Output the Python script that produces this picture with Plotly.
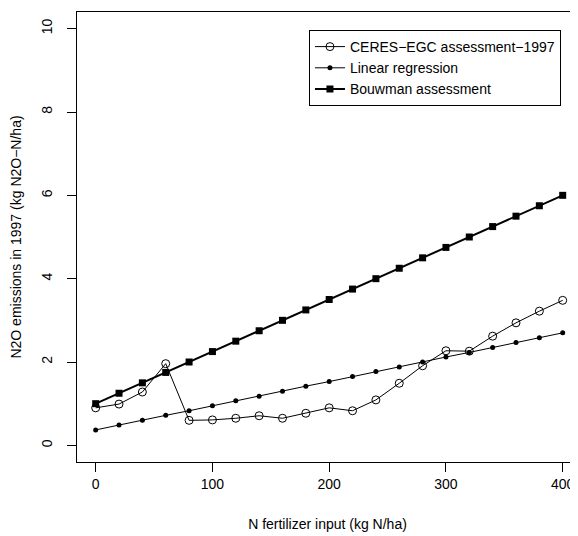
import plotly.graph_objects as go

n_input = [0, 20, 40, 60, 80, 100, 120, 140, 160, 180, 200, 220, 240, 260, 280, 300, 320, 340, 360, 380, 400]
ceres = [0.90, 0.99, 1.28, 1.96, 0.60, 0.61, 0.65, 0.71, 0.65, 0.77, 0.90, 0.83, 1.09, 1.49, 1.91, 2.27, 2.26, 2.62, 2.94, 3.22, 3.48]
linreg = [0.37, 0.49, 0.60, 0.72, 0.83, 0.95, 1.07, 1.18, 1.30, 1.42, 1.53, 1.65, 1.77, 1.88, 2.00, 2.12, 2.23, 2.35, 2.47, 2.58, 2.70]
bouwman = [1.00, 1.25, 1.50, 1.75, 2.00, 2.25, 2.50, 2.75, 3.00, 3.25, 3.50, 3.75, 4.00, 4.25, 4.50, 4.75, 5.00, 5.25, 5.50, 5.75, 6.00]
x_ticks = [0, 100, 200, 300, 400]
y_ticks = [0, 2, 4, 6, 8, 10]

FONT = "Liberation Sans, Arial, Helvetica, sans-serif"
FS = 14

fig = go.Figure()
fig.add_trace(go.Scatter(
    x=n_input, y=ceres, mode="lines+markers", name="CERES\u2212EGC assessment\u22121997",
    line=dict(color="black", width=1),
    marker=dict(symbol="circle-open", size=8, color="black", line=dict(width=1)),
))
fig.add_trace(go.Scatter(
    x=n_input, y=linreg, mode="lines+markers", name="Linear regression",
    line=dict(color="black", width=1),
    marker=dict(symbol="circle", size=5, color="black"),
))
fig.add_trace(go.Scatter(
    x=n_input, y=bouwman, mode="lines+markers", name="Bouwman assessment",
    line=dict(color="black", width=2),
    marker=dict(symbol="square", size=7, color="black"),
))

# page has an 8px body margin, so the figure is shrunk and shifted accordingly
fig.update_layout(
    width=570, height=528,
    margin=dict(l=69, r=0, t=4, b=74),
    paper_bgcolor="white", plot_bgcolor="white",
    font=dict(family=FONT, size=FS, color="black"),
    showlegend=True,
    legend=dict(
        x=0.463, y=0.96, xanchor="left", yanchor="top",
        bordercolor="black", borderwidth=1, bgcolor="white",
        font=dict(family=FONT, size=FS, color="black"),
        tracegroupgap=0, itemwidth=30,
    ),
    xaxis=dict(
        range=[-16, 413.1], tickvals=x_ticks, ticktext=[str(v) for v in x_ticks],
        showgrid=False, zeroline=False, automargin=False,
        showline=True, linecolor="black", linewidth=1, mirror=True,
        ticks="outside", ticklen=9, tickcolor="black", tickwidth=1,
        tickfont=dict(family=FONT, size=FS),
        title=dict(text="N fertilizer input (kg N/ha)", font=dict(family=FONT, size=FS), standoff=28),
    ),
    yaxis=dict(
        range=[-0.4, 10.4], tickvals=y_ticks, ticktext=[str(v) for v in y_ticks],
        showgrid=False, zeroline=False, automargin=False,
        showline=True, linecolor="black", linewidth=1, mirror=False,
        ticks="outside", ticklen=9, tickcolor="black", tickwidth=1,
        tickangle=-90, ticklabelstandoff=9,
        tickfont=dict(family=FONT, size=FS),
        title=dict(text="N2O emissions in 1997 (kg N2O\u2212N/ha)", font=dict(family=FONT, size=FS), standoff=14),
    ),
)

fig.write_html("out.html")
